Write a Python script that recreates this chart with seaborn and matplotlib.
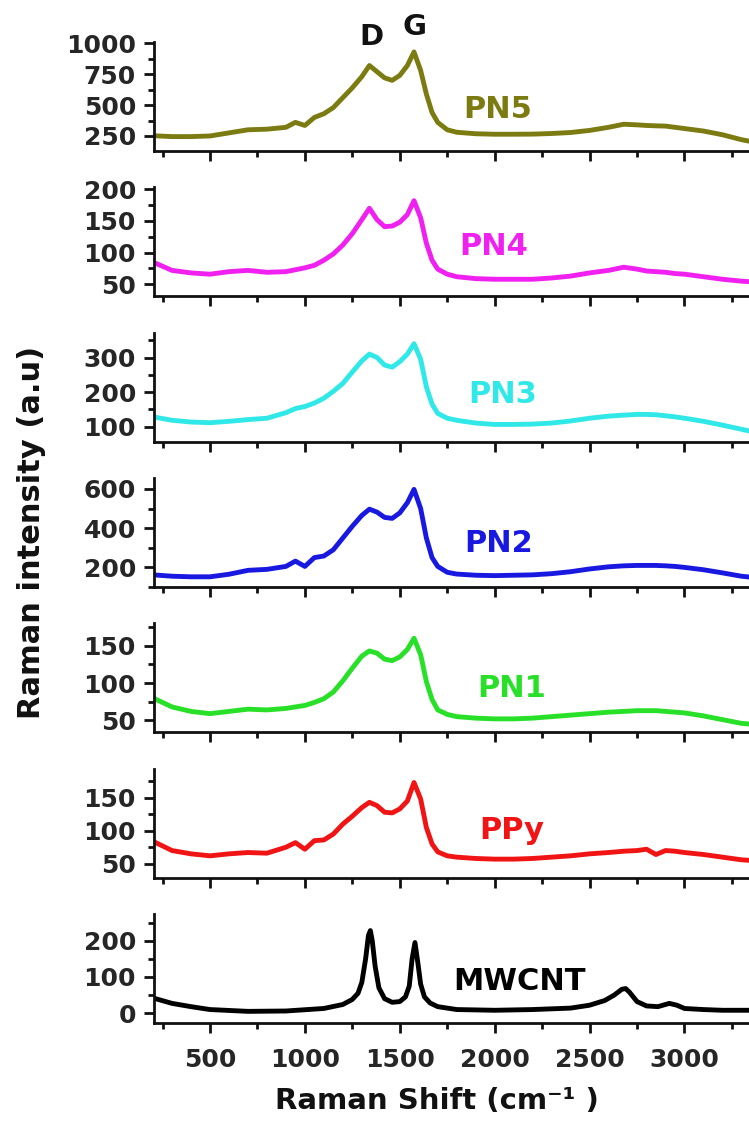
import matplotlib
matplotlib.use("Agg")
import matplotlib.pyplot as plt
from matplotlib.ticker import MultipleLocator
import seaborn as sns
import pandas as pd

# ---------------- data ----------------
shift = [200, 300, 400, 500, 600, 700, 800, 900, 950, 1000, 1050, 1100, 1150, 1200,
         1250, 1300, 1340, 1380, 1420, 1460, 1500, 1540, 1575, 1610, 1640, 1670, 1700,
         1750, 1800, 1900, 2000, 2100, 2200, 2300, 2400, 2500, 2600, 2680, 2750, 2800,
         2850, 2900, 2950, 3000, 3100, 3200, 3300, 3350]

pn5 = [252, 245, 245, 250, 275, 300, 305, 320, 360, 335, 400, 430, 480, 560,
       640, 730, 820, 770, 720, 700, 740, 820, 930, 780, 590, 440, 360,
       300, 280, 268, 264, 264, 265, 270, 278, 295, 320, 345, 340, 335,
       332, 330, 320, 310, 290, 260, 220, 205]

pn4 = [85, 72, 68, 66, 70, 72, 69, 70, 73, 76, 80, 88, 98, 112,
       130, 152, 170, 152, 141, 142, 148, 160, 182, 155, 115, 88, 74,
       66, 62, 59, 58, 58, 58, 60, 63, 68, 72, 77, 74, 71,
       70, 69, 67, 66, 62, 58, 55, 54]

pn3 = [128, 118, 113, 111, 115, 120, 124, 140, 152, 158, 168, 182, 202, 225,
       258, 290, 310, 300, 278, 272, 288, 310, 340, 295, 215, 165, 138,
       124, 118, 110, 106, 106, 107, 110, 116, 124, 130, 133, 135, 135,
       134, 131, 128, 124, 115, 104, 92, 86]

pn2 = [162, 155, 152, 152, 165, 185, 190, 205, 232, 205, 250, 258, 290, 350,
       410, 465, 497, 482, 455, 450, 478, 530, 598, 500, 350, 250, 205,
       175, 166, 160, 158, 160, 162, 168, 178, 192, 203, 208, 210, 210,
       210, 208, 205, 200, 188, 172, 155, 150]

pn1 = [80, 68, 62, 59, 62, 65, 64, 66, 68, 70, 74, 79, 88, 103,
       120, 136, 143, 140, 132, 130, 135, 145, 160, 138, 102, 78, 64,
       58, 55, 53, 52, 52, 53, 55, 57, 59, 61, 62, 63, 63,
       63, 62, 61, 60, 56, 51, 46, 45]

ppy = [84, 70, 65, 62, 65, 67, 66, 75, 82, 72, 85, 86, 95, 110,
       122, 135, 143, 138, 128, 127, 133, 145, 173, 148, 105, 80, 68,
       62, 60, 58, 57, 57, 58, 60, 62, 65, 67, 69, 70, 72,
       64, 70, 69, 67, 64, 60, 56, 55]

shift_cnt = [200, 300, 400, 500, 700, 900, 1100, 1200, 1250, 1280, 1300, 1320, 1335,
             1345, 1355, 1370, 1390, 1420, 1460, 1500, 1530, 1550, 1565, 1580, 1595,
             1610, 1630, 1660, 1700, 1800, 2000, 2200, 2400, 2500, 2580, 2630, 2670,
             2690, 2710, 2750, 2800, 2860, 2920, 2960, 3000, 3100, 3200, 3350]
mwcnt = [42, 27, 18, 10, 5, 6, 13, 24, 38, 55, 85, 150, 215,
         228, 200, 130, 70, 40, 30, 32, 45, 75, 150, 195, 140,
         80, 45, 28, 18, 10, 8, 10, 14, 22, 35, 50, 66,
         68, 58, 32, 20, 18, 27, 22, 13, 10, 8, 8]

names = ["PN5", "PN4", "PN3", "PN2", "PN1", "PPy", "MWCNT"]
colors = ["#7b7b12", "#f020f0", "#30e8e8", "#1818e0", "#28e028", "#f01414", "#000000"]
ylims = [(128, 1010), (31, 203), (56, 372), (100, 656), (34, 180), (29, 194), (-27, 274)]
ymajor = [250, 50, 100, 200, 50, 50, 100]
ytick_vals = [[250, 500, 750, 1000], [50, 100, 150, 200], [100, 200, 300],
              [200, 400, 600], [50, 100, 150], [50, 100, 150], [0, 100, 200]]
label_pos = [(2016, 399), (1996, 97), (2040, 169), (2020, 277), (2090, 81), (2090, 88), (2130, 63)]
peak_names = ["D", "G"]
peak_pos = [(1352, 983), (1576, 1065)]

series_x = [shift, shift, shift, shift, shift, shift, shift_cnt]
series_y = [pn5, pn4, pn3, pn2, pn1, ppy, mwcnt]

# ---------------- style ----------------
sns.set_theme(style="ticks")
plt.rcParams["font.family"] = ["DejaVu Sans"]
plt.rcParams["font.weight"] = "bold"

fig = plt.figure(figsize=(7.49, 11.24), dpi=100)
gs = fig.add_gridspec(7, 1, left=0.2056, right=1.0, top=0.9626, bottom=0.0899, hspace=0.333)

for i in range(7):
    ax = fig.add_subplot(gs[i, 0])
    df = pd.DataFrame({"x": series_x[i], "y": series_y[i]})
    sns.lineplot(data=df, x="x", y="y", ax=ax, color=colors[i], lw=3.5, sort=False)
    ax.set_xlim(205, 3340)
    ax.set_ylim(*ylims[i])
    ax.set_xlabel("")
    ax.set_ylabel("")
    for s in ["top", "right"]:
        ax.spines[s].set_visible(False)
    for s in ["left", "bottom"]:
        ax.spines[s].set_linewidth(2.0)
        ax.spines[s].set_color("#111111")
    ax.xaxis.set_major_locator(MultipleLocator(500))
    ax.xaxis.set_minor_locator(MultipleLocator(250))
    ax.set_yticks(ytick_vals[i])
    ax.yaxis.set_minor_locator(MultipleLocator(ymajor[i] / 2))
    ax.tick_params(axis="both", which="major", direction="out", length=7, width=2,
                   color="#111111", labelsize=18)
    ax.tick_params(axis="both", which="minor", direction="out", length=4.5, width=2,
                   color="#111111")
    ax.tick_params(axis="y", which="major", pad=6)
    ax.tick_params(axis="x", which="major", pad=11)
    for lab in ax.get_yticklabels() + ax.get_xticklabels():
        lab.set_fontweight("bold")
    if i < 6:
        ax.tick_params(axis="x", which="both", labelbottom=False)
    lx, ly = label_pos[i]
    ax.text(lx, ly, names[i], color=colors[i], fontsize=22, fontweight="bold",
            ha="center", va="baseline")
    if i == 0:
        for nm, (px, py) in zip(peak_names, peak_pos):
            ax.text(px, py, nm, color="#111111", fontsize=21, fontweight="bold",
                    ha="center", va="baseline", clip_on=False)

fig.text(32 / 749, 1 - 532 / 1124, "Raman intensity (a.u)", rotation=90,
         ha="center", va="center", fontsize=22, fontweight="bold", color="#111111")
fig.text(437 / 749, 1 - 1101 / 1124, "Raman Shift (cm⁻¹ )",
         ha="center", va="center", fontsize=21, fontweight="bold", color="#111111")

fig.savefig("out.png", dpi=100)
